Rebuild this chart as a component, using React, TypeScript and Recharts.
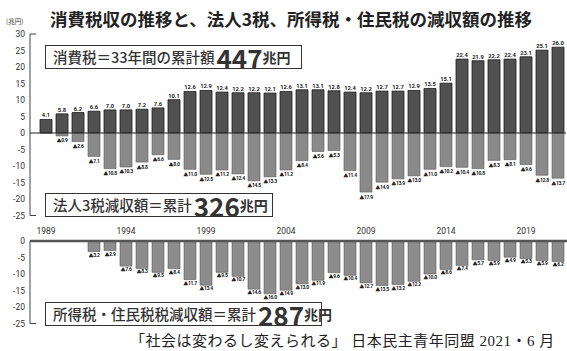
import React from 'react';
import { BarChart, Bar, XAxis, YAxis, ReferenceLine, LabelList } from 'recharts';

// 1989 - 2021 (33 years), 兆円
const years = [
  1989, 1990, 1991, 1992, 1993, 1994, 1995, 1996, 1997, 1998, 1999,
  2000, 2001, 2002, 2003, 2004, 2005, 2006, 2007, 2008, 2009, 2010,
  2011, 2012, 2013, 2014, 2015, 2016, 2017, 2018, 2019, 2020, 2021,
];

const consumptionTax = [
  4.1, 5.8, 6.2, 6.6, 7.0, 7.0, 7.2, 7.6, 10.1, 12.6, 12.9,
  12.4, 12.2, 12.2, 12.1, 12.6, 13.1, 13.1, 12.8, 12.4, 12.2, 12.7,
  12.7, 12.9, 13.5, 15.1, 22.4, 21.9, 22.2, 22.4, 23.1, 25.1, 26.0,
];

// 法人3税の減収額 (▲)
const corporateCut = [
  null, 0.9, 2.6, 7.1, 10.8, 10.3, 8.8, 6.6, 8.0, 11.0, 12.5,
  11.2, 12.4, 14.5, 13.3, 11.2, 8.4, 5.6, 5.3, 11.4, 17.9, 14.9,
  13.9, 13.0, 11.0, 10.2, 10.4, 10.8, 8.3, 8.1, 9.6, 12.8, 13.7,
];

// 所得税・住民税の減収額 (▲)
const incomeCut = [
  null, null, null, 3.2, 2.9, 7.6, 8.3, 9.5, 8.4, 11.7, 13.4,
  9.5, 10.7, 14.6, 16.0, 14.9, 13.0, 11.9, 9.6, 10.4, 12.7, 13.5,
  13.2, 12.2, 10.0, 8.6, 7.4, 5.7, 5.9, 4.9, 5.3, 5.9, 6.2,
];

const topTicks = [-25, -20, -15, -10, -5, 0, 5, 10, 15, 20, 25, 30];
const bottomTicks = [-25, -20, -15, -10, -5, 0];

const data = years.map((y, i) => ({
  year: String(y),
  cons: consumptionTax[i],
  corp: corporateCut[i] == null ? null : -(corporateCut[i] as number),
  income: incomeCut[i] == null ? null : -(incomeCut[i] as number),
}));

const JP = '"Noto Sans CJK JP", "Noto Sans", sans-serif';
const NUM = 'Roboto, "Noto Sans CJK JP", sans-serif';

const PosLabel = (props: any) => {
  const { x, y, width, height, value } = props;
  if (value == null) return null;
  const top = Math.min(y, y + height);
  return (
    <text x={x + width / 2} y={top - 2} textAnchor="middle" fontSize={5.8} fontWeight={700} fill="#222" fontFamily={NUM}>
      {Number(value).toFixed(1)}
    </text>
  );
};

const makeNegLabel = (gap: number) => (props: any) => {
  const { x, y, width, height, value } = props;
  if (value == null) return null;
  const bottom = Math.max(y, y + height);
  return (
    <text x={x + width / 2} y={bottom + gap} textAnchor="middle" fontSize={5.1} fontWeight={700}
      letterSpacing={-0.35} fill="#222" fontFamily={NUM}>
      ▲{Math.abs(Number(value)).toFixed(1)}
    </text>
  );
};

const makeYTick = (hooks: number[]) => (props: any) => {
  const { x, y, payload } = props;
  return (
    <g>
      <text x={x} y={y + 3} textAnchor="end" fontSize={8.5} fill="#333" fontFamily={NUM}>
        {payload.value}
      </text>
      {hooks.includes(payload.value) && (
        <line x1={x + 5} x2={x + 11} y1={y} y2={y} stroke="#444" strokeWidth={1} />
      )}
    </g>
  );
};

const XTick = (props: any) => {
  const { x, y, payload } = props;
  return (
    <text x={x} y={y + 10} textAnchor="middle" fontSize={8.5} fill="#333" fontFamily={NUM}>
      {payload.value}
    </text>
  );
};

const boxStyle: React.CSSProperties = {
  position: 'absolute',
  left: 45,
  height: 24,
  border: '1.5px solid #333',
  background: '#fff',
  display: 'flex',
  alignItems: 'center',
  paddingLeft: 7,
  boxSizing: 'border-box',
  fontFamily: JP,
  color: '#333',
  whiteSpace: 'nowrap',
};

const Box = ({ top, width, label, total }: { top: number; width: number; label: string; total: string }) => (
  <div style={{ ...boxStyle, top, width }}>
    <span style={{ fontSize: 14.5, fontWeight: 500, lineHeight: '18px' }}>{label}</span>
    <span style={{ fontSize: 26, fontWeight: 700, lineHeight: '19px', marginLeft: 2 }}>{total}</span>
    <span style={{ fontSize: 14, fontWeight: 700, lineHeight: '18px' }}>兆円</span>
  </div>
);

export default function App() {
  return (
    <div style={{ position: 'absolute', left: 0, top: 0, width: 567, height: 351, background: '#fff', overflow: 'hidden' }}>
      <div style={{ position: 'absolute', left: 50, top: 6, fontFamily: JP, fontWeight: 700, fontSize: 17.5, color: '#222', whiteSpace: 'nowrap' }}>
        消費税収の推移と、法人3税、所得税・住民税の減収額の推移
      </div>
      <div style={{ position: 'absolute', left: 6, top: 16, fontFamily: JP, fontSize: 6.5, color: '#333' }}>(兆円)</div>

      <div style={{ position: 'absolute', left: 0, top: 0 }}>
        <BarChart width={567} height={245} data={data} stackOffset="sign" barSize={12}
          margin={{ top: 34, right: 1, left: 0, bottom: 5.5 }}>
          <XAxis dataKey="year" axisLine={false} tickLine={false} tickSize={0} tickMargin={8}
            interval={4} height={24} padding={{ left: 8, right: 0 }} tick={<XTick />} />
          <YAxis domain={[-25, 30]} ticks={topTicks} width={30} axisLine={{ stroke: '#444' }}
            tickLine={false} tickSize={4} tickMargin={1} interval={0} tick={makeYTick([30, -25])} />
          <Bar dataKey="cons" stackId="a" fill="#505050" stroke="#1c1c1c" strokeWidth={0.8} isAnimationActive={false}>
            <LabelList dataKey="cons" content={<PosLabel />} />
          </Bar>
          <Bar dataKey="corp" stackId="a" fill="#8a8a8a" stroke="#5a5a5a" strokeWidth={0.6} isAnimationActive={false}>
            <LabelList dataKey="corp" content={makeNegLabel(6.5)} />
          </Bar>
          <ReferenceLine y={0} stroke="#222" strokeWidth={1} />
        </BarChart>
      </div>

      <div style={{ position: 'absolute', left: 0, top: 230 }}>
        <BarChart width={567} height={100} data={data} barSize={12}
          margin={{ top: 11, right: 0, left: 0, bottom: 6.5 }}>
          <XAxis dataKey="year" hide padding={{ left: 8, right: 1 }} />
          <YAxis domain={[-25, 0]} ticks={bottomTicks} width={30} axisLine={{ stroke: '#444' }}
            tickLine={false} tickSize={4} tickMargin={1} interval={0} tick={makeYTick([-25])} />
          <Bar dataKey="income" fill="#8c8c8c" stroke="#5a5a5a" strokeWidth={0.6} isAnimationActive={false}>
            <LabelList dataKey="income" content={makeNegLabel(5)} />
          </Bar>
          <ReferenceLine y={0} stroke="#555" strokeWidth={2.5} />
        </BarChart>
      </div>

      <Box top={45} width={257} label="消費税＝33年間の累計額" total="447" />
      <Box top={193} width={228} label="法人3税減収額＝累計" total="326" />
      <Box top={302} width={277} label="所得税・住民税税減収額＝累計" total="287" />

      <div style={{ position: 'absolute', left: 130, top: 329, fontFamily: '"Liberation Serif", "Noto Sans CJK JP", serif', fontSize: 15, letterSpacing: 0.5, color: '#222', whiteSpace: 'nowrap' }}>
        「社会は変わるし変えられる」 日本民主青年同盟 2021・6 月
      </div>
    </div>
  );
}
